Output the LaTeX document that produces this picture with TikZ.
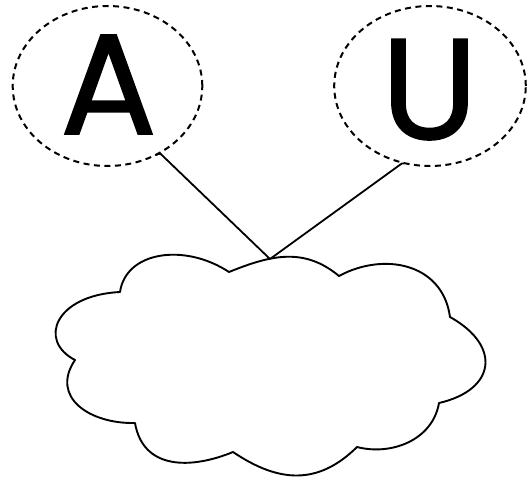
\documentclass[tikz,border=0pt]{standalone}
\usepackage{fontspec}
\usetikzlibrary{shapes.geometric}
\newfontfamily\letterfont[FakeBold=1.2]{Poppins}
\begin{document}
\begin{tikzpicture}[x=1pt,y=-1pt,
  bubble/.style={draw, ellipse, line width=2pt, dash pattern=on 6pt off 4.5pt, inner sep=0pt},
  letter/.style={inner sep=0pt, font=\letterfont\fontsize{143}{143}\selectfont},
  cloudline/.style={draw, line width=1.9pt, line join=round},
  link/.style={draw, line width=1.8pt, line join=miter}]
\useasboundingbox (0,0) rectangle (530,479);
\fill[white] (0,0) rectangle (530,479);
% dashed bubbles
\node[bubble, minimum width=189.6pt, minimum height=160pt] (ea) at (107.5,86) {};
\node[bubble, minimum width=191.6pt, minimum height=160pt] (eu) at (430,86) {};
% letters
\node[letter, anchor=base] (la) at (108.5,134) {A};
\node[letter, anchor=base] (lu) at (429.5,139) {U};
% cloud
\draw[cloudline] (120,292)
  .. controls (126,251) and (185,243) .. (229,272)
  .. controls (271,255) and (304,247) .. (339,276)
  .. controls (383,252) and (442.5,262.5) .. (450,317)
  .. controls (502,346) and (495.6,390) .. (439,403)
  .. controls (432.5,440.4) and (391,455.8) .. (357,447)
  .. controls (318,485.5) and (278.7,482.8) .. (233,452)
  .. controls (191.4,469.1) and (143.2,470.3) .. (135,423)
  .. controls (90,424) and (49.8,397.4) .. (75,360)
  .. controls (37.6,340.7) and (55,295.25) .. (120,292) -- cycle;
\coordinate (top) at (270,259);
% connectors
\draw[link] (top) -- (ea.-52) -- ++(-5,1.5);
\draw[link] (top) -- (eu.-110) -- ++(2,0);
\end{tikzpicture}
\end{document}
